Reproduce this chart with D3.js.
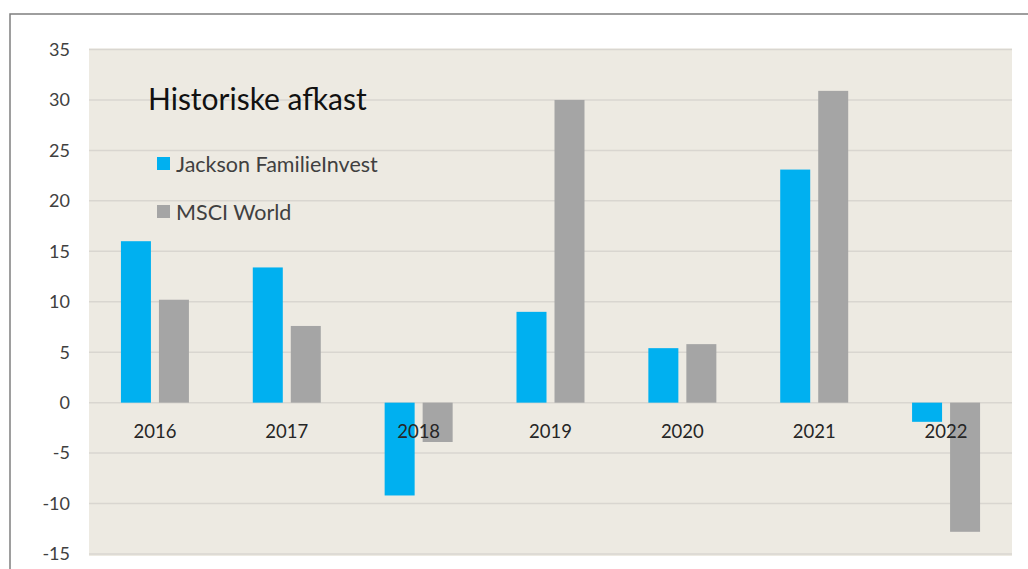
<!DOCTYPE html>
<html>
<head>
<meta charset="utf-8">
<script src="https://cdn.jsdelivr.net/npm/d3@7"></script>
<style>
  body { margin: 0; background: #fff; }
  svg text { font-family: Lato, "Noto Sans", sans-serif; }
  .tick-y { fill: #404040; font-size: 18px; }
  .tick-x { fill: #262626; font-size: 18.5px; }
  .title { fill: #111; font-size: 30px; }
  .legend-text { fill: #404040; font-size: 21.5px; }
</style>
</head>
<body>
<div id="chart"></div>
<script>
// Data
const years = ['2016', '2017', '2018', '2019', '2020', '2021', '2022'];
const jackson = [16.0, 13.4, -9.2, 9.0, 5.4, 23.1, -1.9];
const msci = [10.2, 7.6, -3.9, 30.0, 5.8, 30.9, -12.8];
const yTicks = [35, 30, 25, 20, 15, 10, 5, 0, -5, -10, -15];
const seriesNames = ['Jackson FamilieInvest', 'MSCI World'];
const seriesColors = ['#00B0F0', '#A5A5A5'];

const width = 1028, height = 569;
const plot = { left: 89, top: 49.5, right: 1012, bottom: 554 };

const svg = d3.select('#chart').append('svg').attr('width', width).attr('height', height);

// outer frame (left + top visible)
svg.append('path').attr('d', `M10,${height} L10,14 L${width},14`)
    .attr('fill', 'none').attr('stroke', '#7f7f7f').attr('stroke-width', 1.5);

// plot background
svg.append('rect').attr('x', plot.left).attr('y', plot.top - 1)
    .attr('width', plot.right - plot.left).attr('height', plot.bottom - plot.top + 3)
    .attr('fill', '#EDEAE2');

// scales
const scaleY = d3.scaleLinear().domain([-15, 35]).range([plot.bottom, plot.top]);
const scaleX = d3.scaleBand().domain(years).range([plot.left, plot.right]);
const barW = 30, gap = 8;
const scaleS = d3.scaleOrdinal().domain([0, 1]).range([-(barW + gap / 2) , gap / 2]);

// gridlines
svg.append('g').selectAll('line').data(yTicks).join('line')
    .attr('x1', plot.left).attr('x2', plot.right)
    .attr('y1', d => scaleY(d)).attr('y2', d => scaleY(d))
    .attr('stroke', '#D9D6D0').attr('stroke-width', 1.5);

// y axis labels
svg.append('g').selectAll('text').data(yTicks).join('text').classed('tick-y', true)
    .attr('x', 70).attr('y', d => scaleY(d)).attr('dy', '0.35em')
    .attr('text-anchor', 'end').text(d => d);

// bars
const series = [jackson, msci];
series.forEach((vals, si) => {
    svg.append('g').selectAll('rect').data(vals).join('rect')
        .attr('x', (d, i) => scaleX(years[i]) + scaleX.bandwidth() / 2 + scaleS(si))
        .attr('width', barW)
        .attr('y', d => scaleY(Math.max(0, d)))
        .attr('height', d => Math.abs(scaleY(d) - scaleY(0)))
        .attr('fill', seriesColors[si]);
});

// category labels next to the zero axis
svg.append('g').selectAll('text').data(years).join('text').classed('tick-x', true)
    .attr('x', d => scaleX(d) + scaleX.bandwidth() / 2)
    .attr('y', scaleY(0) + 35)
    .attr('text-anchor', 'middle').text(d => d);

// title
svg.append('text').classed('title', true).attr('x', 148).attr('y', 110).text('Historiske afkast');

// legend
const legend = svg.append('g');
seriesNames.forEach((name, i) => {
    const y = 164 + i * 48;
    legend.append('rect').attr('x', 157).attr('y', y - 7).attr('width', 13).attr('height', 13)
        .attr('fill', seriesColors[i]);
    legend.append('text').classed('legend-text', true).attr('x', 176).attr('y', y).attr('dy', '0.35em').text(name);
});
</script>
</body>
</html>
